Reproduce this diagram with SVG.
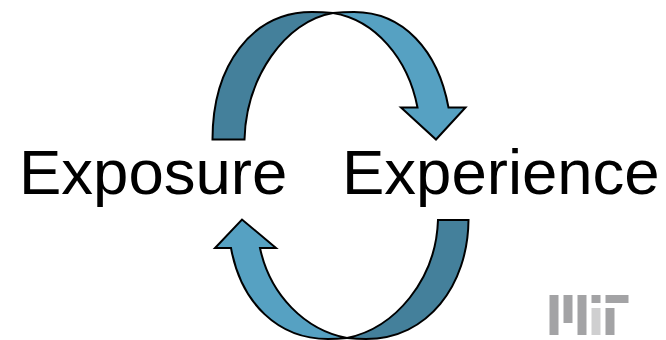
<svg xmlns="http://www.w3.org/2000/svg" width="666" height="340" viewBox="0 0 666 340">
<style>
.lbl{font-family:"Liberation Sans",Arial,sans-serif;font-size:63.500px;fill:#000}
.a{stroke:#000;stroke-width:2;stroke-linejoin:miter}
.l{fill:#56a1c2}.d{fill:#44809b}
.m{fill:#a3a3a5}.n{fill:#cfcfd0}
</style>
<rect width="666" height="340" fill="#fff"/>
<g id="connectors">
<g id="arrow-top">
<path class="a d" d="M333 13 C328 12.500 322 12 312 12 C252 12 212.500 65 212.500 139.500 L244.500 139.500 C246 78 285 21 333 13Z"/>
<path class="a l" d="M333 13 C338 12.500 344 12 354 12 C403 12 438 50 448.500 107.500 L465.500 107.500 L436 139.500 L401 107.500 L417.500 107.500 C408 58 375 20 333 13Z"/>
</g>
<g id="arrow-bottom">
<path class="a d" d="M347 338 C352 338.500 358 339 366 339 C428 339 468 285 468.500 220 L438 220 C436 280 395 328 347 338Z"/>
<path class="a l" d="M347 338 C342 338.500 336 339 328 339 C278 339 241 303 231 248 L215 248 L242 219.500 L276 248 L260 248 C270 295 305 330 347 338Z"/>
</g>
</g>
<g id="node-exposure"><text class="lbl" x="19" y="194">Exposure</text></g>
<g id="node-experience"><text class="lbl" x="342" y="194">Experience</text></g>
<g id="mit-logo">
<rect class="m" x="549.500" y="295" width="9" height="40"/>
<rect class="m" x="563.500" y="295" width="9" height="28"/>
<rect class="m" x="577.500" y="295" width="9" height="40"/>
<rect class="m" x="591.500" y="295" width="9" height="8"/>
<rect class="n" x="591.500" y="308" width="9" height="27"/>
<rect class="m" x="605.500" y="295" width="23" height="8"/>
<rect class="m" x="605.500" y="308" width="9" height="27"/>
</g>
</svg>
